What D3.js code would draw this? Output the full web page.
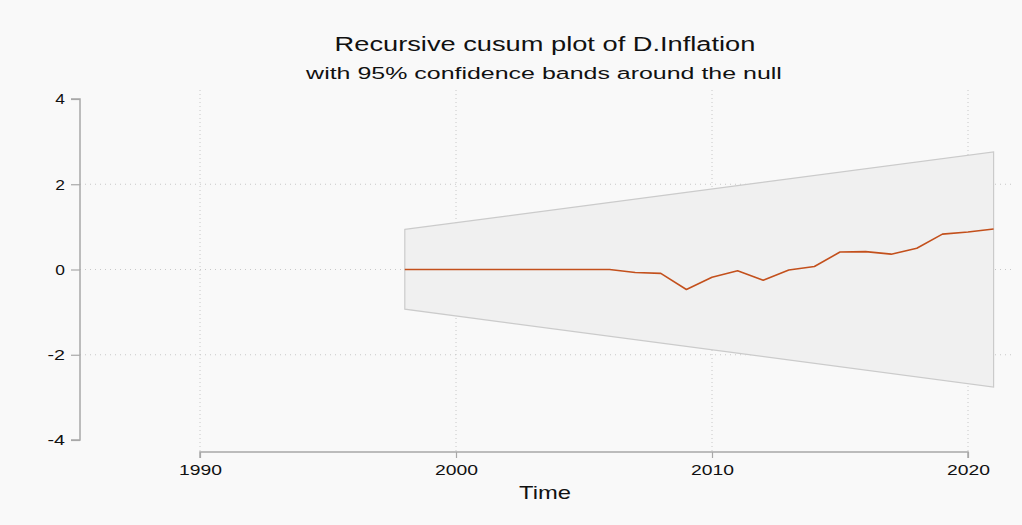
<!DOCTYPE html>
<html><head><meta charset="utf-8">
<script src="https://cdn.jsdelivr.net/npm/d3@7"></script>
<style>html,body{margin:0;padding:0;background:#f9f9f9;}svg{display:block;}text{font-family:"Liberation Sans",Arial,sans-serif;fill:#111;}</style>
</head><body>
<svg id="c" width="1022" height="525"></svg>
<script>
const years = [1998,1999,2000,2001,2002,2003,2004,2005,2006,2007,2008,2009,2010,2011,2012,2013,2014,2015,2016,2017,2018,2019,2020,2021];
const cusum = [0,0,0,0,0,0,0,0,0,-0.07,-0.09,-0.47,-0.18,-0.03,-0.25,-0.01,0.07,0.41,0.42,0.36,0.50,0.83,0.88,0.95];
const bandYears = [1998,2021];
const bandUpper = [0.94,2.76];
const bandLower = [-0.93,-2.76];
const xTicks = [1990,2000,2010,2020];
const yTicks = [4,2,0,-2,-4];
const yGrid = [2,0,-2];

const svg = d3.select("#c");
svg.append("rect").attr("width",1022).attr("height",525).attr("fill","#f9f9f9");
const x = d3.scaleLinear().domain([1990,2020]).range([200,968]);
const y = d3.scaleLinear().domain([-4,4]).range([440,99]);
const plotL = 80, plotR = 1012, plotT = 90, plotB = 452;

function fit(sel, w){
  sel.each(function(){
    const t=d3.select(this); const len=this.getComputedTextLength();
    const s=w/len; const ax=+(t.attr("x")||0), ay=+(t.attr("y")||0);
    t.attr("transform",`translate(${ax},${ay}) scale(${s},1) translate(${-ax},${-ay})`);
  });
}

// grid
svg.append("g").selectAll("line").data(yGrid).join("line")
  .attr("x1",plotL).attr("x2",plotR).attr("y1",d=>y(d)).attr("y2",d=>y(d))
  .attr("stroke","#c8c8c8").attr("stroke-width",1).attr("stroke-dasharray","1,4");
svg.append("g").selectAll("line").data(xTicks).join("line")
  .attr("x1",d=>x(d)).attr("x2",d=>x(d)).attr("y1",plotT).attr("y2",plotB)
  .attr("stroke","#c8c8c8").attr("stroke-width",1).attr("stroke-dasharray","1,3");

// band
const bandPts = bandYears.map((d,i)=>[x(d),y(bandUpper[i])]).concat(bandYears.map((d,i)=>[x(d),y(bandLower[i])]).reverse());
svg.append("path").attr("d","M"+bandPts.join("L")+"Z")
  .attr("fill","#f0f0f0").attr("stroke","#cbcbcb").attr("stroke-width",1.2);

// line
svg.append("path").datum(years.map((d,i)=>[d,cusum[i]]))
  .attr("d",d3.line().x(d=>x(d[0])).y(d=>y(d[1])))
  .attr("fill","none").attr("stroke","#c3501c").attr("stroke-width",1.6).attr("stroke-linejoin","round");

// y axis
const ya = svg.append("g").attr("transform",`translate(${plotL},0)`)
  .call(d3.axisLeft(y).tickValues(yTicks).tickSize(9).tickPadding(6).tickFormat(d3.format("d")));
ya.select(".domain").attr("stroke","#a8a8a8").attr("stroke-width",1.5).attr("d",`M-9,${y(4)}H0V${y(-4)}H-9`);
ya.selectAll(".tick line").attr("stroke","#a8a8a8").attr("stroke-width",1.2);
ya.selectAll(".tick text").attr("font-size",null).style("font-size","15.5px").style("fill","#111").style("font-family","Liberation Sans, Arial, sans-serif").text(d=>d<0?"-"+Math.abs(d):d);
ya.selectAll(".tick text").each(function(d){ fit(d3.select(this), d<0?17.5:9.7); });

// x axis
const xa = svg.append("g").attr("transform",`translate(0,${plotB})`)
  .call(d3.axisBottom(x).tickValues(xTicks).tickSize(6).tickPadding(6).tickFormat(d3.format("d")));
xa.select(".domain").attr("stroke","#a8a8a8").attr("stroke-width",1.5).attr("d",`M${x(1990)},6V0H${x(2020)}V6`);
xa.selectAll(".tick line").attr("stroke","#a8a8a8").attr("stroke-width",1.2);
xa.selectAll(".tick text").attr("font-size",null).style("font-size","15.5px").style("fill","#111").style("font-family","Liberation Sans, Arial, sans-serif");
fit(xa.selectAll(".tick text"),43);

// titles
const t1 = svg.append("text").attr("x",545).attr("y",51).attr("text-anchor","middle").attr("font-size",21).text("Recursive cusum plot of D.Inflation");
fit(t1,421);
const t2 = svg.append("text").attr("x",544).attr("y",79).attr("text-anchor","middle").attr("font-size",17).attr("fill","#222").text("with 95% confidence bands around the null");
fit(t2,476);
const t3 = svg.append("text").attr("x",545).attr("y",499).attr("text-anchor","middle").attr("font-size",17.5).text("Time");
fit(t3,52);
</script>
</body></html>
